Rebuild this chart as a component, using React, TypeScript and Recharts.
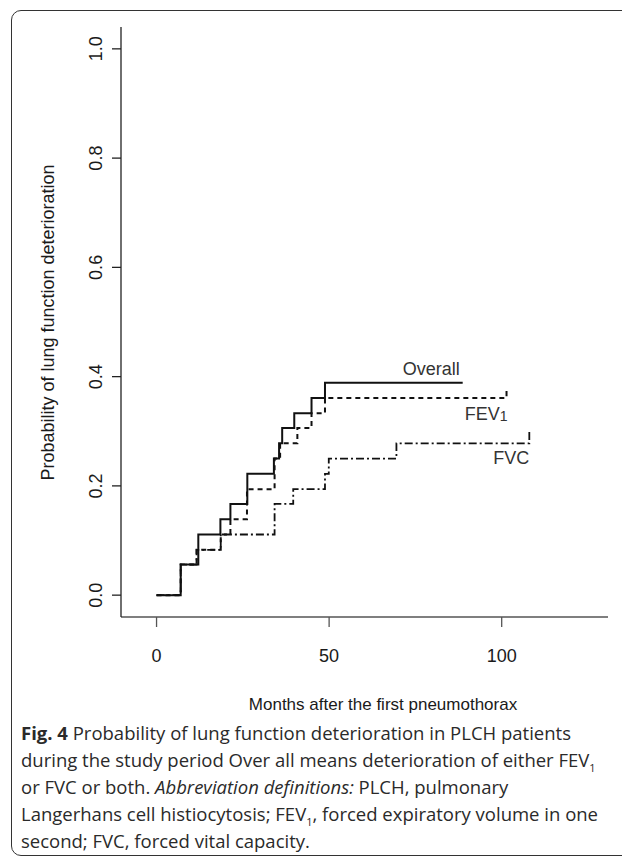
import { LineChart, Line, XAxis, YAxis } from 'recharts'

// months after first pneumothorax / cumulative probability (step data)
const OVERALL_T = [0, 7.0, 12.1, 18.5, 21.4, 26.3, 34.0, 35.5, 36.4, 39.9, 44.9, 48.8, 88.7]
const OVERALL_P = [0, 0.056, 0.111, 0.139, 0.167, 0.222, 0.25, 0.278, 0.306, 0.333, 0.361, 0.389, 0.389]

const FEV1_T = [0, 7.0, 11.6, 18.6, 21.4, 26.2, 34.2, 35.8, 40.8, 44.9, 48.8, 101.4]
const FEV1_P = [0, 0.056, 0.083, 0.111, 0.139, 0.194, 0.25, 0.278, 0.306, 0.333, 0.361, 0.38]

const FVC_T = [0, 7.0, 11.6, 18.6, 34.2, 39.6, 48.8, 49.9, 69.5, 108.0]
const FVC_P = [0, 0.056, 0.083, 0.111, 0.167, 0.194, 0.222, 0.25, 0.278, 0.304]

const X_TICKS = [0, 50, 100]
const Y_TICKS = [0, 0.2, 0.4, 0.6, 0.8, 1.0]

const toRows = (t: number[], p: number[]) => t.map((m, i) => ({ t: m, p: p[i] }))

const overall = toRows(OVERALL_T, OVERALL_P)
const fev1 = toRows(FEV1_T, FEV1_P)
const fvc = toRows(FVC_T, FVC_P)

const AXIS_FONT = '"Liberation Sans", Arial, sans-serif'
const INK = '#1a1a1a'

const YTick = ({ x, y, payload }: any) => (
  <text
    x={x}
    y={y}
    dy="0.36em"
    transform={`rotate(-90 ${x} ${y})`}
    textAnchor="middle"
    fontFamily={AXIS_FONT}
    fontSize={18}
    fill={INK}
  >
    {Number(payload.value).toFixed(1)}
  </text>
)

// draws the curve name only next to the last point of a series
const endLabel = (last: number, name: string, sub: string, dx: number, dy: number) => (props: any) => {
  if (props.index !== last) return null
  return (
    <text
      x={props.x + dx}
      y={props.y + dy}
      textAnchor="end"
      fontFamily={AXIS_FONT}
      fontSize={18}
      fill="#333"
    >
      {name}
      {sub && <tspan fontSize={14} dy={1}>{sub}</tspan>}
    </text>
  )
}

const sub1 = <sub style={{ fontSize: 11, lineHeight: 0 }}>1</sub>

export default function App() {
  return (
    <div style={{ position: 'absolute', left: 0, top: 0, width: 622, height: 856, overflow: 'hidden', background: '#fff' }}>
      <div
        style={{
          position: 'absolute',
          left: 11,
          top: 10,
          width: 660,
          height: 844,
          border: '1.5px solid #333',
          borderRadius: 10,
        }}
      />
      <div style={{ position: 'absolute', left: 0, top: 0 }}>
        <LineChart width={622} height={680} margin={{ top: 27, right: 14, bottom: 23, left: 61 }}>
          <XAxis
            type="number"
            dataKey="t"
            domain={[-10.3, 130.8]}
            ticks={X_TICKS}
            allowDataOverflow
            tickSize={10}
            tickMargin={22}
            height={40}
            axisLine={{ stroke: '#555', strokeWidth: 1.6 }}
            tickLine={{ stroke: '#555', strokeWidth: 1.3 }}
            tick={{ fontFamily: AXIS_FONT, fontSize: 18, fill: INK }}
          />
          <YAxis
            type="number"
            dataKey="p"
            domain={[-0.04, 1.04]}
            ticks={Y_TICKS}
            allowDataOverflow
            width={60}
            tickSize={9}
            tickMargin={16}
            axisLine={{ stroke: '#222', strokeWidth: 1.3 }}
            tickLine={{ stroke: '#222', strokeWidth: 1.3 }}
            tick={<YTick />}
          />
          <Line
            data={overall}
            dataKey="p"
            type="stepAfter"
            stroke="#111"
            strokeWidth={2}
            dot={false}
            isAnimationActive={false}
            label={endLabel(overall.length - 1, 'Overall', '', -3, -8)}
          />
          <Line
            data={fev1}
            dataKey="p"
            type="stepAfter"
            stroke="#111"
            strokeWidth={2}
            strokeDasharray="5 4"
            dot={false}
            isAnimationActive={false}
            label={endLabel(fev1.length - 1, 'FEV', '1', 1, 32)}
          />
          <Line
            data={fvc}
            dataKey="p"
            type="stepAfter"
            stroke="#111"
            strokeWidth={1.8}
            strokeDasharray="8 3 2 3"
            dot={false}
            isAnimationActive={false}
            label={endLabel(fvc.length - 1, 'FVC', '', 0, 35)}
          />
        </LineChart>
      </div>
      <div
        style={{
          position: 'absolute',
          left: 0,
          top: 0,
          width: 96,
          height: 644,
          display: 'flex',
          alignItems: 'center',
          justifyContent: 'center',
        }}
      >
        <div
          style={{
            transform: 'rotate(-90deg)',
            whiteSpace: 'nowrap',
            fontFamily: AXIS_FONT,
            fontSize: 18,
            color: INK,
          }}
        >
          Probability of lung function deterioration
        </div>
      </div>
      <div
        style={{
          position: 'absolute',
          left: 183,
          top: 695,
          width: 400,
          textAlign: 'center',
          fontFamily: AXIS_FONT,
          fontSize: 17,
          lineHeight: '20px',
          color: INK,
        }}
      >
        Months after the first pneumothorax
      </div>
      <div
        style={{
          position: 'absolute',
          left: 21,
          top: 719,
          whiteSpace: 'nowrap',
          fontFamily: '"Open Sans", sans-serif',
          fontSize: 18.5,
          lineHeight: '27px',
          color: '#2a2a2a',
        }}
      >
        <b>Fig. 4</b> Probability of lung function deterioration in PLCH patients
        <br />
        during the study period Over all means deterioration of either FEV{sub1}
        <br />
        or FVC or both. <i>Abbreviation definitions:</i> PLCH, pulmonary
        <br />
        Langerhans cell histiocytosis; FEV{sub1}, forced expiratory volume in one
        <br />
        second; FVC, forced vital capacity.
      </div>
    </div>
  )
}
